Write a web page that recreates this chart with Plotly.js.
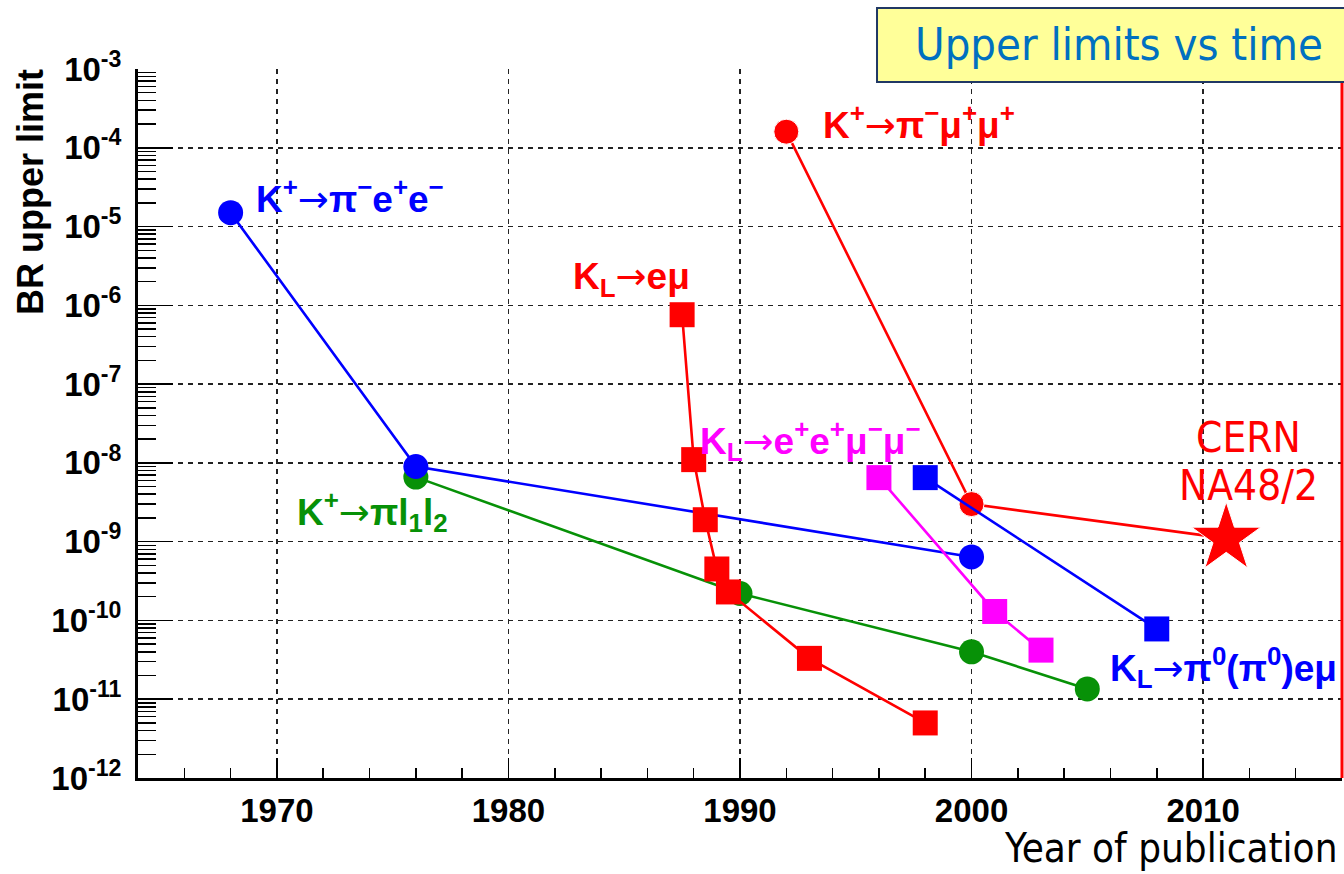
<!DOCTYPE html>
<html>
<head>
<meta charset="utf-8">
<script src="https://cdn.plot.ly/plotly-3.0.1.min.js"></script>
<style>
  html, body { margin: 0; padding: 0; background: #fff; }
  #chart { width: 1344px; height: 874px; }
</style>
</head>
<body>
<div id="chart"></div>
<script>
// Upper limits on lepton-flavour / lepton-number violating kaon decays vs year

// K+ -> pi- e+ e-
const kpeeYear = [1968, 1976, 2000];
const kpeeBR   = [1.5e-5, 9.0e-9, 6.4e-10];

// K+ -> pi l1 l2
const kpllYear = [1976, 1990, 2000, 2005];
const kpllBR   = [6.6e-9, 2.2e-10, 4.0e-11, 1.35e-11];

// KL -> e mu
const kleYear = [1987.5, 1988, 1988.5, 1989, 1989.5, 1993, 1998];
const kleBR   = [7.6e-7, 1.1e-8, 1.9e-9, 4.5e-10, 2.3e-10, 3.3e-11, 5.0e-12];

// K+ -> pi- mu+ mu+
const kpmmYear = [1992, 2000];
const kpmmBR   = [1.6e-4, 3.0e-9];

// CERN NA48/2 result
const na48Year = [2011];
const na48BR   = [1.1e-9];

// KL -> e+ e+ mu- mu-
const kleemmYear = [1996, 2001, 2003];
const kleemmBR   = [6.5e-9, 1.3e-10, 4.2e-11];

// KL -> pi0 (pi0) e mu
const klpemYear = [1998, 2008];
const klpemBR   = [6.5e-9, 7.8e-11];

// Axis ticks
const yearTicks = [1970, 1980, 1990, 2000, 2010];
const decadeExp = [-12, -11, -10, -9, -8, -7, -6, -5, -4, -3];

const BLUE = '#0000ff', RED = '#ff0000', GREEN = '#079107', MAGENTA = '#ff00ff';
const LW = 2.6;

function series(x, y, color, symbol, size) {
  return {
    type: 'scatter', mode: 'lines+markers', x: x, y: y,
    line: { color: color, width: LW },
    marker: { color: color, symbol: symbol, size: size, opacity: 1 },
    hoverinfo: 'x+y', showlegend: false, cliponaxis: false
  };
}

const traces = [
  series(kpllYear, kpllBR, GREEN, 'circle', 25),
  series(kpeeYear, kpeeBR, BLUE, 'circle', 25),
  series(kleYear, kleBR, RED, 'square', 25),
  // K+ -> pi- mu+ mu+ history ending at the NA48/2 star
  (function () {
    const t = series(kpmmYear.concat(na48Year), kpmmBR.concat(na48BR), RED, 'circle', 25);
    t.marker.symbol = kpmmYear.map(() => 'circle').concat(na48Year.map(() => 'star'));
    t.marker.size = kpmmYear.map(() => 25).concat(na48Year.map(() => 52));
    return t;
  })(),
  series(kleemmYear, kleemmBR, MAGENTA, 'square', 25),
  series(klpemYear, klpemBR, BLUE, 'square', 25)
];

const decadeVals = decadeExp.map(e => Math.pow(10, e));
const decadeText = decadeExp.map(e => '10<sup>' + e + '</sup>');
const minorVals = [];
decadeExp.slice(0, -1).forEach(e => {
  for (let k = 2; k <= 9; k++) minorVals.push(k * Math.pow(10, e));
});

const rootFamily = 'Liberation Sans, Arial, sans-serif';
const tickFont = { family: rootFamily, size: 33, color: '#000', weight: 'bold' };
const labelFont = (c) => ({ family: rootFamily, size: 37, color: c, weight: 'bold' });
const slideFont = 'DejaVu Sans Condensed, DejaVu Sans, sans-serif';
const ARROW = '<span style="font-family:DejaVu Sans;font-weight:normal">→</span>';

function label(text, x, logy, color) {
  return { text: text.replace('→', ARROW), x: x, y: logy, xref: 'x', yref: 'y', showarrow: false,
           xanchor: 'left', yanchor: 'middle', font: labelFont(color) };
}

const layout = {
  width: 1344, height: 874,
  margin: { l: 138, r: 2, t: 69, b: 96 },
  paper_bgcolor: '#ffffff', plot_bgcolor: '#ffffff',
  showlegend: false,
  xaxis: {
    range: [1964, 2016],
    tickmode: 'array', tickvals: yearTicks, ticktext: yearTicks.map(String),
    ticks: 'inside', ticklen: 20, tickwidth: 1.5, tickcolor: '#000',
    ticklabelstandoff: 1,
    showline: true, linewidth: 3, linecolor: '#000', mirror: false,
    showgrid: true, gridcolor: '#222', gridwidth: 1.5, griddash: '5px,5px',
    zeroline: false, tickfont: tickFont,
    minor: { ticks: 'inside', ticklen: 10, tickwidth: 1.5, tickcolor: '#000',
             tick0: 1964, dtick: 2, showgrid: false }
  },
  yaxis: {
    type: 'log', range: [-12, -3],
    tickmode: 'array', tickvals: decadeVals, ticktext: decadeText,
    ticks: 'inside', ticklen: 35, tickwidth: 1.5, tickcolor: '#000',
    ticklabelstandoff: 7,
    showline: true, linewidth: 3, linecolor: '#000', mirror: false,
    showgrid: true, gridcolor: '#222', gridwidth: 1.5, griddash: '5px,5px',
    zeroline: false, tickfont: tickFont,
    minor: { tickmode: 'array', tickvals: minorVals, ticks: 'inside', ticklen: 18,
             tickwidth: 1.5, tickcolor: '#000', showgrid: false }
  },
  shapes: [
    // right frame edge
    { type: 'line', xref: 'paper', yref: 'paper', x0: 1, x1: 1, y0: 0, y1: 1,
      line: { color: RED, width: 3 }, layer: 'above' },
    // title box
    { type: 'rect', xref: 'paper', yref: 'paper', x0: 0.6138, x1: 1.01, y0: 0.9817, y1: 1.086,
      fillcolor: '#ffff99', line: { color: '#203864', width: 2 }, layer: 'above' }
  ],
  annotations: [
    { text: 'Upper limits vs time', xref: 'paper', yref: 'paper', x: 0.6437, y: 1.034,
      xanchor: 'left', yanchor: 'middle', showarrow: false,
      font: { family: slideFont, size: 45, color: '#0070c0' } },
    { text: 'Year of publication', xref: 'paper', yref: 'paper', x: 0.9967, y: -0.1326,
      xanchor: 'right', yanchor: 'bottom', showarrow: false, borderpad: 0,
      font: { family: slideFont, size: 40, color: '#000' } },
    { text: 'BR upper limit', xref: 'paper', yref: 'paper', x: -0.0897, y: 0.8265,
      xanchor: 'center', yanchor: 'middle', textangle: -90, showarrow: false,
      font: { family: rootFamily, size: 36, color: '#000', weight: 'bold' } },
    { text: 'CERN', xref: 'x', yref: 'y', x: 2011.94, y: -7.68,
      xanchor: 'center', yanchor: 'middle', showarrow: false,
      font: { family: slideFont, size: 42, color: RED } },
    { text: 'NA48/2', xref: 'x', yref: 'y', x: 2011.94, y: -8.29,
      xanchor: 'center', yanchor: 'middle', showarrow: false,
      font: { family: slideFont, size: 42, color: RED } },
    label('K<sup>+</sup>→π<sup>−</sup>e<sup>+</sup>e<sup>−</sup>', 1969.0, -4.62, BLUE),
    label('K<sup>+</sup>→π<sup>−</sup>μ<sup>+</sup>μ<sup>+</sup>', 1993.5, -3.68, RED),
    label('K<sub>L</sub>→eμ', 1982.7, -5.66, RED),
    label('K<sub>L</sub>→e<sup>+</sup>e<sup>+</sup>μ<sup>−</sup>μ<sup>−</sup>', 1988.2, -7.72, MAGENTA),
    label('K<sup>+</sup>→πl<sub>1</sub>l<sub>2</sub>', 1970.8, -8.62, GREEN),
    label('K<sub>L</sub>→π<sup>0</sup>(π<sup>0</sup>)eμ', 2005.9, -10.60, BLUE)
  ]
};

Plotly.newPlot('chart', traces, layout, { staticPlot: true, displayModeBar: false });
</script>
</body>
</html>
